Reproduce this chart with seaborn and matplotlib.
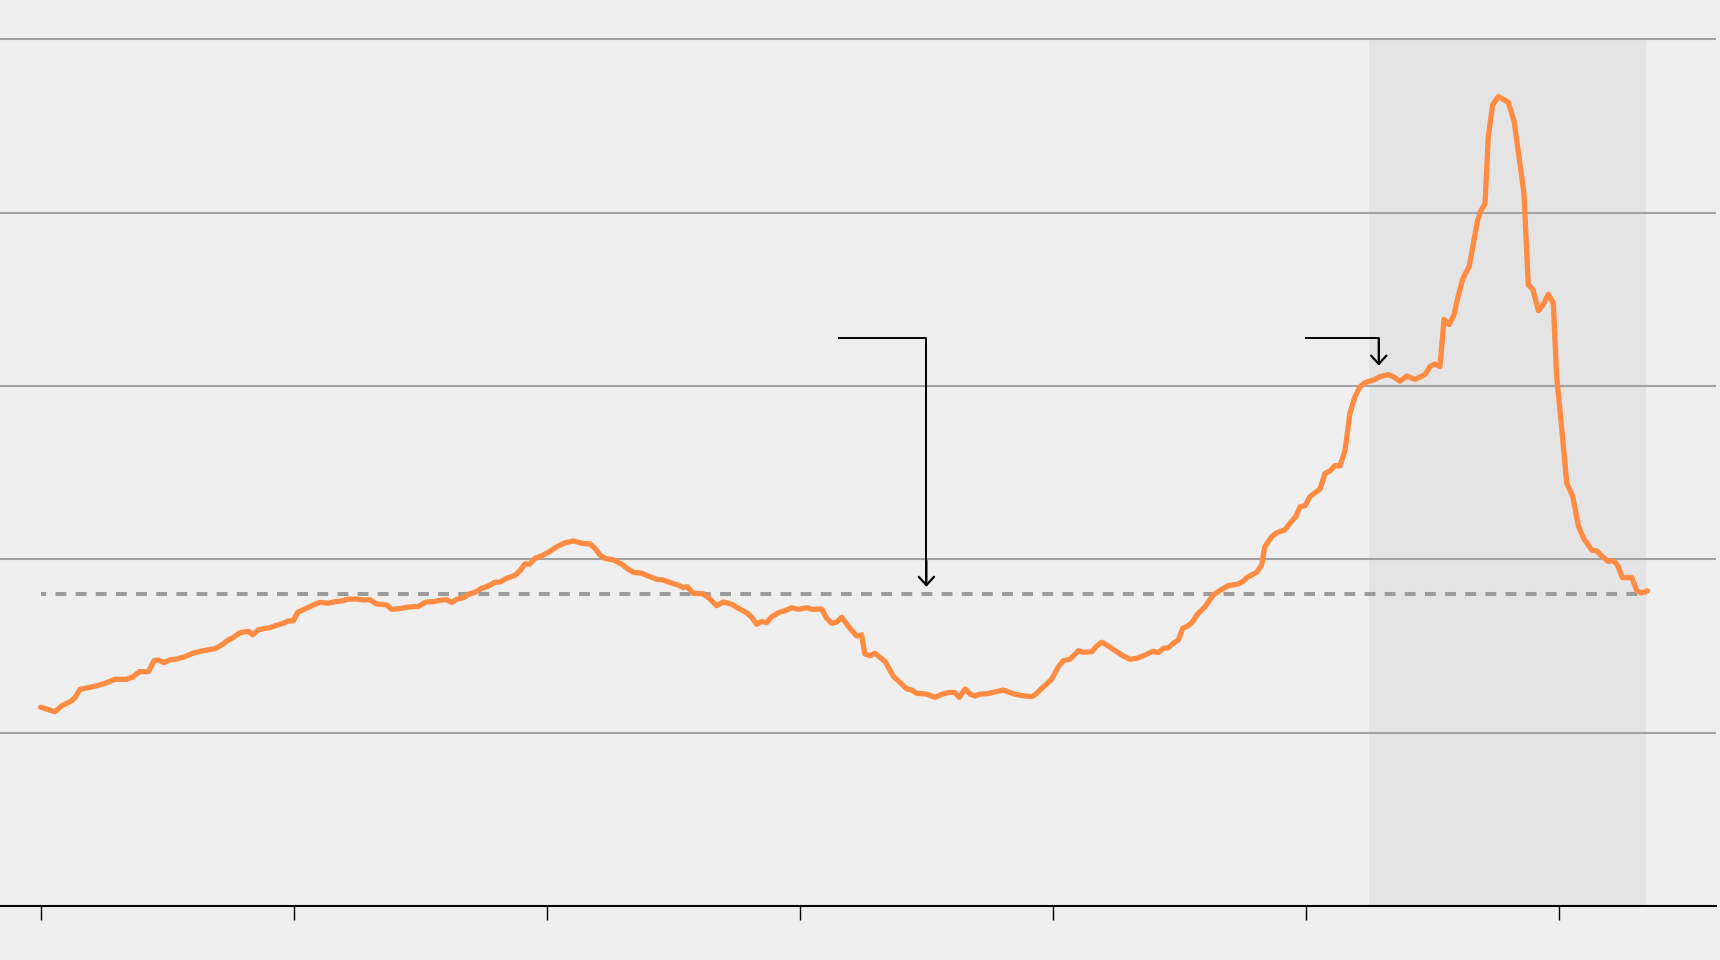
import matplotlib
matplotlib.use("Agg")
import matplotlib.pyplot as plt
import seaborn as sns
import pandas as pd

# ---- data (x in years from first tick, y in grid units) ----
years = [
    0.000, 0.057, 0.083, 0.123, 0.136, 0.156, 0.189, 0.222, 0.255, 0.294,
    0.340, 0.366, 0.390, 0.426, 0.448, 0.465, 0.488, 0.511, 0.538, 0.571,
    0.604, 0.643, 0.689, 0.716, 0.742, 0.762, 0.788, 0.821, 0.838, 0.860,
    0.887, 0.907, 0.933, 0.959, 0.979, 0.999, 1.016, 1.045, 1.078, 1.104,
    1.137, 1.164, 1.190, 1.216, 1.249, 1.275, 1.302, 1.328, 1.368, 1.388,
    1.421, 1.447, 1.493, 1.523, 1.552, 1.579, 1.605, 1.625, 1.645, 1.671,
    1.697, 1.717, 1.743, 1.770, 1.796, 1.816, 1.842, 1.875, 1.895, 1.915,
    1.932, 1.954, 1.981, 2.007, 2.040, 2.073, 2.106, 2.139, 2.172,
    2.191, 2.211, 2.231, 2.264, 2.297, 2.323, 2.343, 2.376, 2.409, 2.435,
    2.461, 2.488, 2.521, 2.540, 2.556, 2.580, 2.619, 2.646, 2.672, 2.698,
    2.732, 2.758, 2.791, 2.811, 2.830, 2.850, 2.870, 2.890, 2.916, 2.942,
    2.969, 2.995, 3.028, 3.048, 3.087, 3.107, 3.127, 3.147, 3.166, 3.199,
    3.226,
    3.245, 3.258, 3.278, 3.298, 3.338, 3.370, 3.397, 3.423, 3.443, 3.463,
    3.502, 3.535, 3.562, 3.594, 3.614, 3.631, 3.654, 3.674, 3.693, 3.713,
    3.740, 3.772, 3.805, 3.825, 3.851, 3.878, 3.917, 3.930, 3.950, 3.996,
    4.023, 4.042, 4.069, 4.102, 4.121, 4.155, 4.174, 4.194, 4.214, 4.247,
    4.279, 4.306,
    4.332, 4.358, 4.398, 4.418, 4.438, 4.457, 4.477, 4.497, 4.514, 4.536,
    4.554, 4.572, 4.602, 4.635, 4.668, 4.694, 4.734, 4.754, 4.767, 4.807,
    4.826, 4.839, 4.866, 4.886, 4.918, 4.938, 4.961, 4.978, 4.998, 5.017,
    5.057, 5.077, 5.096, 5.116, 5.136, 5.156, 5.175, 5.195, 5.215, 5.235,
    5.268, 5.294, 5.327, 5.347, 5.373,
    5.400, 5.432, 5.472, 5.492, 5.511, 5.531, 5.547, 5.567, 5.586, 5.604,
    5.621, 5.647, 5.663, 5.679, 5.692, 5.709, 5.722, 5.739, 5.762, 5.801,
    5.824, 5.841, 5.863, 5.880, 5.898, 5.920, 5.937, 5.959, 5.979, 5.992,
    6.012, 6.032, 6.056, 6.078, 6.098, 6.131, 6.151, 6.170, 6.196, 6.214,
    6.232, 6.252, 6.289, 6.309, 6.328, 6.351,
]
values = [
    1.147, 1.121, 1.154, 1.185, 1.204, 1.250, 1.260, 1.271, 1.285, 1.308,
    1.308, 1.323, 1.352, 1.352, 1.415, 1.420, 1.404, 1.420, 1.425, 1.439,
    1.460, 1.473, 1.485, 1.506, 1.535, 1.550, 1.577, 1.585, 1.565, 1.593,
    1.602, 1.606, 1.620, 1.631, 1.645, 1.646, 1.695, 1.714, 1.737, 1.752,
    1.747, 1.756, 1.760, 1.771, 1.771, 1.766, 1.767, 1.743, 1.737, 1.712,
    1.716, 1.724, 1.729, 1.754, 1.756, 1.764, 1.767, 1.752, 1.770, 1.779,
    1.802, 1.810, 1.833, 1.847, 1.868, 1.870, 1.891, 1.908, 1.935, 1.975,
    1.972, 2.006, 2.021, 2.041, 2.073, 2.096, 2.106, 2.093, 2.089,
    2.064, 2.025, 2.006, 1.997, 1.972, 1.943, 1.926, 1.920, 1.900, 1.885,
    1.881, 1.866, 1.851, 1.837, 1.842, 1.804, 1.802, 1.771, 1.733, 1.754,
    1.741, 1.718, 1.692, 1.666, 1.626, 1.641, 1.635, 1.669, 1.692, 1.704,
    1.721, 1.712, 1.721, 1.712, 1.714, 1.660, 1.631, 1.639, 1.666, 1.602,
    1.558,
    1.564, 1.454, 1.444, 1.458, 1.410, 1.327, 1.289, 1.254, 1.246, 1.227,
    1.223, 1.204, 1.222, 1.233, 1.231, 1.204, 1.252, 1.223, 1.212, 1.223,
    1.225, 1.235, 1.246, 1.235, 1.222, 1.214, 1.208, 1.218, 1.246, 1.308,
    1.381, 1.415, 1.424, 1.473, 1.464, 1.467, 1.500, 1.522, 1.506, 1.473,
    1.443, 1.424,
    1.429, 1.444, 1.470, 1.462, 1.487, 1.490, 1.516, 1.535, 1.602, 1.617,
    1.641, 1.683, 1.727, 1.795, 1.827, 1.848, 1.858, 1.875, 1.894, 1.926,
    1.968, 2.073, 2.131, 2.154, 2.170, 2.208, 2.246, 2.304, 2.310, 2.362,
    2.406, 2.497, 2.510, 2.541, 2.539, 2.631, 2.843, 2.939, 2.997, 3.020,
    3.035, 3.054, 3.066, 3.054, 3.028,
    3.058, 3.038, 3.067, 3.113, 3.127, 3.113, 3.385, 3.355, 3.409, 3.525,
    3.618, 3.693, 3.822, 3.952, 4.011, 4.051, 4.439, 4.623, 4.671, 4.637,
    4.528, 4.349, 4.111, 3.584, 3.558, 3.435, 3.465, 3.530, 3.479, 3.058,
    2.759, 2.441, 2.362, 2.193, 2.123, 2.054, 2.048, 2.020, 1.988, 1.994,
    1.969, 1.895, 1.895, 1.819, 1.806, 1.819,
]
tick_positions = [0, 1, 2, 3, 4, 5, 6]
grid_levels = [1, 2, 3, 4, 5]
reference_level = 1.803
shade_range = [5.251, 6.347]
shade_top = 5.0
# callouts: (x start, x corner, y of horizontal, y of arrow tip)
callout_1 = [3.153, 3.501, 3.279, 1.842]
callout_2 = [4.998, 5.289, 3.279, 3.118]

BG = "#efefef"
sns.set_theme(style="white")
plt.rcParams["font.family"] = ["DejaVu Sans"]

fig = plt.figure(figsize=(17.2, 9.6), dpi=100, facecolor=BG)
ax = fig.add_axes([0, 54 / 960, 1716 / 1720, 875.2 / 960])
ax.set_facecolor(BG)
ax.set_xlim(-0.1605, 6.622)
ax.set_ylim(0, 5.05)

ax.fill_between(shade_range, [0, 0], [shade_top, shade_top],
                color="#e4e4e4", lw=0, zorder=0)
for g in grid_levels:
    ax.axhline(g, color="#a2a2a2", lw=1.5, zorder=1)

ax.plot([years[0], years[-1]], [reference_level, reference_level],
        color="#9c9c9c", lw=2.9, linestyle=(1.4, (2.7, 2.3)),
        dash_capstyle="butt", zorder=2)

df = pd.DataFrame({"year": years, "value": values})
sns.lineplot(data=df, x="year", y="value", ax=ax, color="#ff8c42",
             linewidth=3.8, estimator=None, sort=False, zorder=3,
             solid_capstyle="round", solid_joinstyle="round")

for x0, x1, ytop, ytip in (callout_1, callout_2):
    ax.plot([x0, x1, x1], [ytop, ytop, ytip + 0.01], color="black", lw=1.4,
            solid_capstyle="butt", zorder=4)
    ax.annotate("", xy=(x1, ytip), xytext=(x1, ytip + 0.15),
                arrowprops=dict(arrowstyle="->,head_length=0.6,head_width=0.55",
                                color="black", lw=1.6, shrinkA=0, shrinkB=0,
                                mutation_scale=10),
                zorder=4)

ax.set_xticks(tick_positions)
ax.set_xticklabels([])
ax.set_yticks([])
ax.tick_params(axis="x", bottom=True, length=10, width=1.0, color="black",
               direction="out")
ax.set_xlabel("")
ax.set_ylabel("")
for s in ("left", "right", "top"):
    ax.spines[s].set_visible(False)
ax.spines["bottom"].set_color("black")
ax.spines["bottom"].set_linewidth(1.5)
ax.spines["bottom"].set_zorder(5)

fig.savefig("out.png", dpi=100, facecolor=BG)
